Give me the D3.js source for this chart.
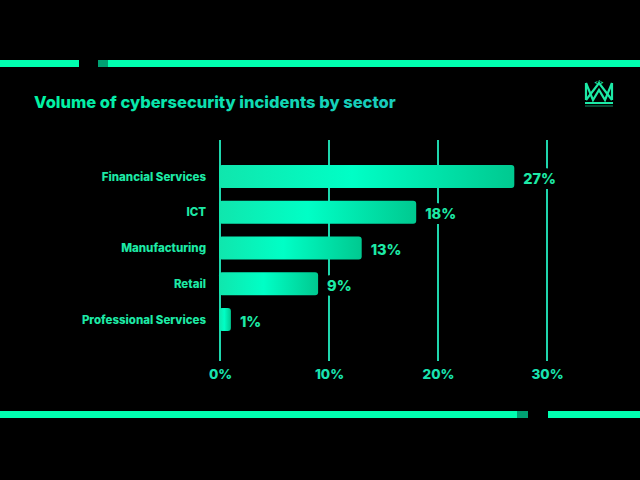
<!DOCTYPE html>
<html>
<head>
<meta charset="utf-8">
<script src="https://cdn.jsdelivr.net/npm/d3@7"></script>
<style>
  html, body { margin: 0; padding: 0; background: #000; }
  svg { display: block; }
  text { font-family: Inter, "Open Sans", sans-serif; font-weight: 800; }
</style>
</head>
<body>
<div id="chart-area"></div>
<script>
// data
var sectors = ["Financial Services", "ICT", "Manufacturing", "Retail", "Professional Services"];
var shares = [27, 18, 13, 9, 1];
var tickValues = [0, 10, 20, 30];
var titleText = "Volume of cybersecurity incidents by sector";

var W = 640, H = 480;
var svg = d3.select("#chart-area").append("svg")
    .attr("width", W)
    .attr("height", H);

svg.append("rect").attr("width", W).attr("height", H).attr("fill", "#000");

var defs = svg.append("defs");

// bar gradient
var barGrad = defs.append("linearGradient")
    .attr("id", "barGrad")
    .attr("x1", "0%").attr("x2", "100%").attr("y1", "0%").attr("y2", "0%");
barGrad.append("stop").attr("offset", "0%").attr("stop-color", "#10e6ad");
barGrad.append("stop").attr("offset", "45%").attr("stop-color", "#00ffc6");
barGrad.append("stop").attr("offset", "100%").attr("stop-color", "#00c990");

var titleGrad = defs.append("linearGradient")
    .attr("id", "titleGrad")
    .attr("gradientUnits", "userSpaceOnUse")
    .attr("x1", 34).attr("x2", 397).attr("y1", 0).attr("y2", 0);
titleGrad.append("stop").attr("offset", "0%").attr("stop-color", "#00f5a2");
titleGrad.append("stop").attr("offset", "100%").attr("stop-color", "#19c9bd");

// decorative frame strips
function strip(y, parts) {
    parts.forEach(function(p) {
        svg.append("rect")
            .attr("x", p[0]).attr("y", y)
            .attr("width", p[1] - p[0]).attr("height", 7)
            .attr("fill", p[2]);
    });
}
strip(60, [[0, 79, "#00ffb0"], [98, 108, "#00a072"], [108, 640, "#00ffb0"]]);
strip(411, [[0, 517, "#00ffb0"], [517, 528, "#00a072"], [548, 640, "#00ffb0"]]);

// title
svg.append("text")
    .attr("x", 34)
    .attr("y", 108)
    .attr("font-size", "16.5px")
    .attr("fill", "url(#titleGrad)")
    .text(titleText);

// logo (crown)
var logo = svg.append("g").attr("fill", "none").attr("stroke", "#1de9a6").attr("stroke-width", 2.2);
logo.append("path").attr("d", "M586,83 L593,100 L599,90 L605,100 L612,83");
logo.append("path").attr("d", "M586,83 L586,100 M612,83 L612,100");
logo.append("path").attr("d", "M586,100 L599,83 L612,100");
svg.append("rect").attr("x", 585).attr("y", 102).attr("width", 28).attr("height", 2).attr("fill", "#1de9a6");
svg.append("rect").attr("x", 585).attr("y", 105.5).attr("width", 28).attr("height", 1).attr("fill", "#1de9a6").attr("opacity", 0.6);
svg.append("text").attr("x", 599).attr("y", 84).attr("text-anchor", "middle")
    .attr("font-size", "5px").attr("fill", "#1de9a6").text("</>");

// scales
var x = d3.scaleLinear().domain([0, 30]).range([220, 547]);
var y = d3.scaleBand().domain(sectors).range([158.6, 337.4]).paddingInner(0.36).paddingOuter(0.18);

// gridlines
svg.append("g").selectAll("line")
    .data(tickValues)
    .enter().append("line")
    .attr("x1", function(d) { return x(d); })
    .attr("x2", function(d) { return x(d); })
    .attr("y1", 140)
    .attr("y2", 361)
    .attr("stroke", "#1fd6ad")
    .attr("stroke-width", 2);

// x axis labels
var xAxis = svg.append("g")
    .attr("transform", "translate(0,361)")
    .call(d3.axisBottom(x).tickValues(tickValues).tickSize(0).tickPadding(8)
        .tickFormat(function(d) { return d + "%"; }));
xAxis.select(".domain").remove();
xAxis.selectAll("text")
    .attr("font-family", "Inter, 'Open Sans', sans-serif")
    .attr("font-weight", 800)
    .attr("font-size", "13.5px")
    .attr("fill", "#19e3b0");

var rows = sectors.map(function(s, i) { return { sector: s, share: shares[i] }; });

// bars
svg.append("g").selectAll("rect")
    .data(rows)
    .enter().append("rect")
    .attr("x", x(0) - 1)
    .attr("y", function(d) { return y(d.sector); })
    .attr("width", function(d) { return x(d.share) - x(0) + 1; })
    .attr("height", y.bandwidth())
    .attr("rx", 3)
    .attr("fill", "url(#barGrad)");

// category labels
svg.append("g").selectAll("text")
    .data(rows)
    .enter().append("text")
    .attr("x", 206)
    .attr("y", function(d) { return y(d.sector) + y.bandwidth() / 2; })
    .attr("dy", "0.35em")
    .attr("text-anchor", "end")
    .attr("font-size", "11.5px")
    .attr("fill", "#1de9a6")
    .text(function(d) { return d.sector; });

// value labels (black halo cuts the gridlines)
svg.append("g").selectAll("text")
    .data(rows)
    .enter().append("text")
    .attr("x", function(d) { return x(d.share) + 9; })
    .attr("y", function(d) { return y(d.sector) + y.bandwidth() / 2 + 2; })
    .attr("dy", "0.35em")
    .attr("font-size", "14.5px")
    .attr("fill", "#1de9a6")
    .attr("stroke", "#000")
    .attr("stroke-width", 10)
    .attr("paint-order", "stroke")
    .text(function(d) { return d.share + "%"; });
</script>
</body>
</html>
